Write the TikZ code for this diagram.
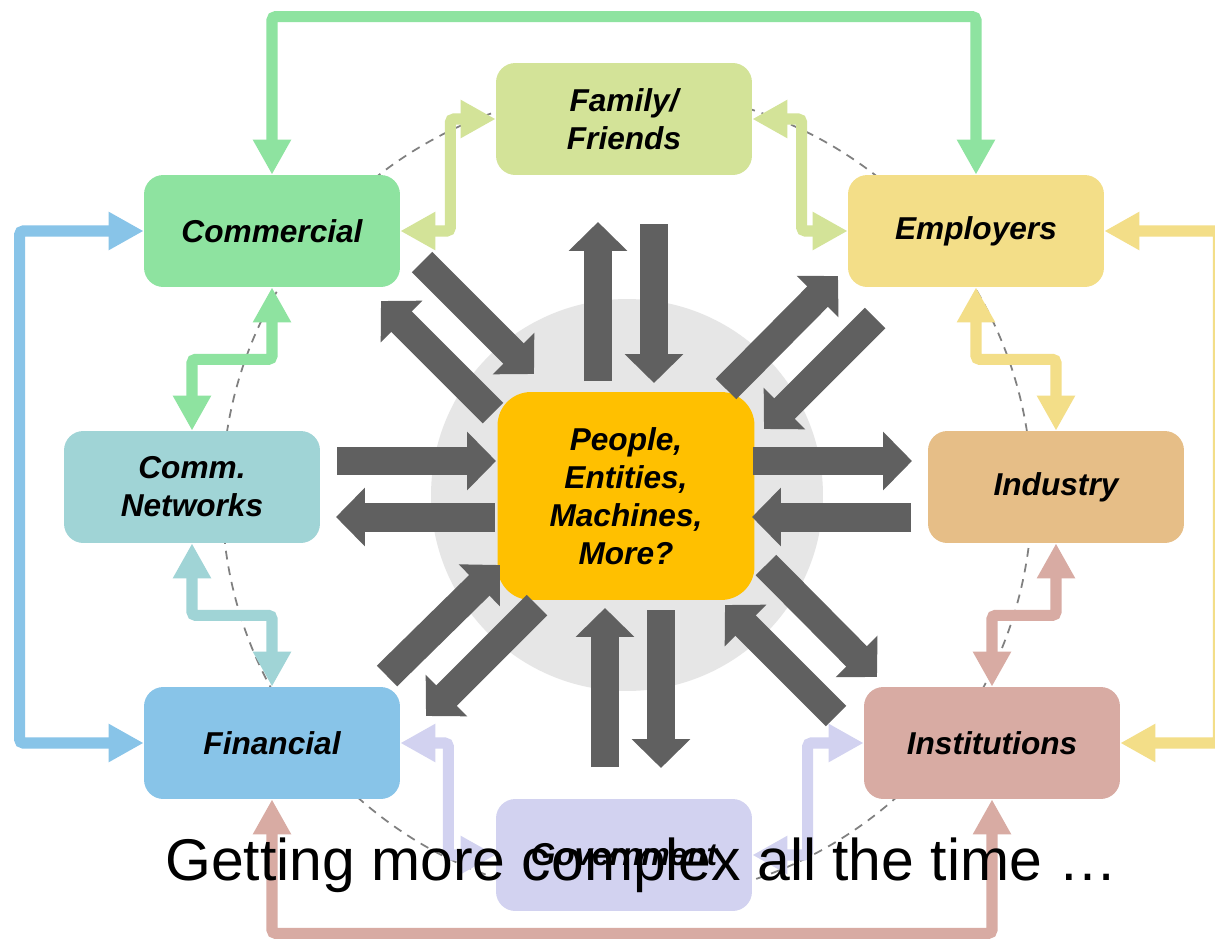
\documentclass[tikz,border=0pt]{standalone}
\usepackage{fontspec}
\setmainfont{Liberation Sans}
\usetikzlibrary{arrows.meta,calc}

\definecolor{famc}{HTML}{D3E398}
\definecolor{commc}{HTML}{8EE3A0}
\definecolor{emplc}{HTML}{F3DE88}
\definecolor{cnetc}{HTML}{A0D4D6}
\definecolor{indc}{HTML}{E6BE87}
\definecolor{finc}{HTML}{88C4E8}
\definecolor{instc}{HTML}{D8ABA3}
\definecolor{govc}{HTML}{D2D2F0}
\definecolor{hubc}{HTML}{FFC000}
\definecolor{flowgrey}{HTML}{606060}
\definecolor{ringgrey}{HTML}{E6E6E6}
\definecolor{dashgrey}{HTML}{808080}

\tikzset{
	box/.style={rounded corners=11pt, minimum width=5.12cm, minimum height=2.24cm,
		inner sep=0pt, align=center, font=\fontsize{18}{21.6}\selectfont\bfseries\itshape},
	link/.style={line width=6.3pt, rounded corners=2pt,
		{Triangle[length=20pt,width=20.5pt]}-{Triangle[length=20pt,width=20.5pt]}},
	flow/.style={draw=flowgrey, line width=16.5pt, -{Triangle[length=16.5pt,width=32.5pt]}},
}

\begin{document}
\begin{tikzpicture}[x=0.02cm, y=-0.02cm]
	\useasboundingbox (0,0) rectangle (1215,940);
	\fill[white] (0,0) rectangle (1215,940);

	% rings behind everything
	\coordinate (mid) at (627,495);
	\draw[dashgrey, line width=1pt, dash pattern=on 5pt off 4pt] (mid) circle (8.1cm);
	\fill[ringgrey] (mid) circle (3.92cm);

	% the boxes
	\node[box, fill=hubc, minimum width=5.14cm, minimum height=4.16cm, rounded corners=19pt] (hub) at (626,496)
		{People,\\Entities,\\Machines,\\More?};
	\node[box, fill=famc] (fam) at (624,119) {Family/\\Friends};
	\node[box, fill=commc] (comm) at (272,231) {Commercial};
	\node[box, fill=emplc] (empl) at (976,231) {Employers};
	\node[box, fill=cnetc] (cnet) at (192,487) {Comm.\\Networks};
	\node[box, fill=indc] (ind) at (1056,487) {Industry};
	\node[box, fill=finc] (fin) at (272,743) {Financial};
	\node[box, fill=instc] (inst) at (992,743) {Institutions};
	\node[box, fill=govc] (gov) at (624,855) {Government};

	% block arrows in and out of the hub
	\foreach \a/\b in {{-28,-115}/{-28,-274}, {28,-272}/{28,-113},
			{-21,271}/{-21,112}, {35,114}/{35,272},
			{-289,-35}/{-130,-35}, {-131,21}/{-290,21},
			{127,-35}/{286,-35}, {285,21}/{126,21},
			{-204,-234}/{-92,-122}, {-133,-83}/{-245,-195},
			{100,-107}/{212,-220}, {249,-178}/{138,-67},
			{140,69}/{251,181}, {210,220}/{99,109},
			{-89,109}/{-200,220}, {-239,180}/{-126,69}}
		\draw[flow] ($(hub.center)+(\a)$) -- ($(hub.center)+(\b)$);

	% links between the outer boxes
	\draw[link, commc] (comm.north) -- ++(0,-158) -| (empl.north);
	\draw[link, famc] (comm.east) -- ++(50,0) |- (fam.west);
	\draw[link, famc] (empl.west) -- ++(-46,0) |- (fam.east);
	\draw[link, commc] (comm.south) -- ++(0,72) -| (cnet.north);
	\draw[link, cnetc] (cnet.south) -- ++(0,72) -| (fin.north);
	\draw[link, finc] (comm.west) -- ++(-124,0) |- (fin.west);
	\draw[link, emplc] (empl.south) -- ++(0,72) -| (ind.north);
	\draw[link, instc] (ind.south) -- ++(0,72) -| (inst.north);
	\draw[link, emplc] (empl.east) -- ++(114,0) |- (inst.east);
	\draw[link, instc] (fin.south) -- ++(0,134) -| (inst.south);
	\draw[link, govc] (fin.east) -- ++(48,0) |- (gov.west);
	\draw[link, govc] (inst.west) -- ++(-56,0) |- (gov.east);

	% caption laid over the bottom
	\node[anchor=base west, inner sep=0pt, font=\fontsize{33.5}{40}\selectfont] (note) at (165,880)
		{Getting more complex all the time …};
\end{tikzpicture}
\end{document}
